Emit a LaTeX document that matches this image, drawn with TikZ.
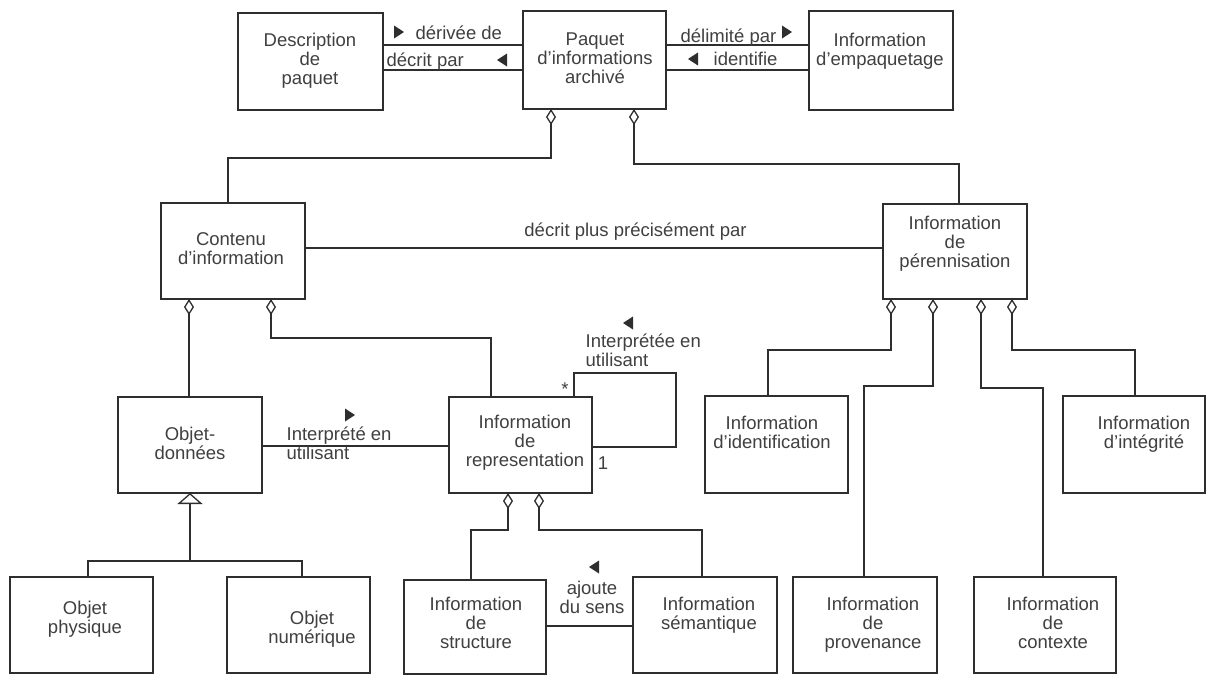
\documentclass[tikz,border=0pt]{standalone}
\usepackage{fontspec}
\setmainfont{Liberation Sans}
\usetikzlibrary{arrows.meta}
\newcommand\umlR[2]{\fill (#1,#2) ++(-5,-6.5) -- ++(10,6.5) -- ++(-10,6.5) -- cycle;}
\newcommand\umlL[2]{\fill (#1,#2) ++(5,-6.5) -- ++(-10,6.5) -- ++(10,6.5) -- cycle;}
\begin{document}
\begin{tikzpicture}[x=1pt,y=-1pt,line width=1.3pt,color=black!82,
  box/.style={draw, rectangle, inner sep=0pt, outer sep=0pt, fill=white},
  txt/.style={font=\fontsize{18.5}{19}\selectfont, align=center, inner sep=0pt, anchor=north, text=black!75},
  lbl/.style={font=\fontsize{18.5}{19}\selectfont, inner sep=0pt, text=black!75},
  umlagg/.style={{Diamond[open,length=16pt,width=10pt]}-},
  umlgen/.style={-{Triangle[open,length=11pt,width=25pt]}}]
\fill[white] (0,0) rectangle (1208,675);
\useasboundingbox (0,0) rectangle (1208,675);
% boxes
\node[box, minimum width=145pt, minimum height=97pt] (desc) at (310.5,61.5) {};
\node[box, minimum width=143pt, minimum height=98pt] (paquet) at (594.5,60) {};
\node[box, minimum width=144pt, minimum height=99pt] (emp) at (881,60.5) {};
\node[box, minimum width=144pt, minimum height=96pt] (contenu) at (233,251) {};
\node[box, minimum width=144pt, minimum height=95pt] (peren) at (955,251.5) {};
\node[box, minimum width=144pt, minimum height=96pt] (objdon) at (190,445) {};
\node[box, minimum width=143pt, minimum height=96pt] (repr) at (520.5,445) {};
\node[box, minimum width=143pt, minimum height=97pt] (ident) at (776.5,444.5) {};
\node[box, minimum width=142pt, minimum height=97pt] (integ) at (1134,444.5) {};
\node[box, minimum width=143pt, minimum height=96pt] (phys) at (81.5,625) {};
\node[box, minimum width=143pt, minimum height=96pt] (num) at (298.5,625) {};
\node[box, minimum width=142pt, minimum height=94pt] (struct) at (475,627) {};
\node[box, minimum width=144pt, minimum height=96pt] (sem) at (705,625) {};
\node[box, minimum width=144pt, minimum height=96pt] (prov) at (865,625) {};
\node[box, minimum width=142pt, minimum height=96pt] (ctx) at (1045,625) {};
% box texts
\node[txt] (desc-t) at (310,32.5) {Description\\de\\paquet};
\node[txt] (paquet-t) at (595,32.5) {Paquet\\d’informations\\archivé};
\node[txt] (emp-t) at (880,32.5) {Information\\d’empaquetage};
\node[txt] (contenu-t) at (231,231.5) {Contenu\\d’information};
\node[txt] (peren-t) at (955,215.5) {Information\\de\\pérennisation};
\node[txt] (objdon-t) at (190,426.5) {Objet-\\données};
\node[txt] (repr-t) at (525,414.5) {Information\\de\\representation};
\node[txt] (ident-t) at (772,415.5) {Information\\d’identification};
\node[txt] (integ-t) at (1144,415.5) {Information\\d’intégrité};
\node[txt] (phys-t) at (85,600.5) {Objet\\physique};
\node[txt] (num-t) at (312,610.5) {Objet\\numérique};
\node[txt] (struct-t) at (476,596.5) {Information\\de\\structure};
\node[txt] (sem-t) at (709,596.5) {Information\\sémantique};
\node[txt] (prov-t) at (873,596.5) {Information\\de\\provenance};
\node[txt] (ctx-t) at (1053,596.5) {Information\\de\\contexte};
% connectors
\draw (desc.east |- 0,45) -- (paquet.west |- 0,45);
\draw (desc.east |- 0,70) -- (paquet.west |- 0,70);
\draw (paquet.east |- 0,45) -- (emp.west |- 0,45);
\draw (paquet.east |- 0,70) -- (emp.west |- 0,70);
\draw[umlagg] (551,0 |- paquet.south) |- (228,158) -- (228,0 |- contenu.north);
\draw[umlagg] (634,0 |- paquet.south) |- (959,164) -- (959,0 |- peren.north);
\draw (contenu.east |- 0,248) -- (peren.west |- 0,248);
\draw[umlagg] (189,0 |- contenu.south) -- (189,0 |- objdon.north);
\draw[umlagg] (271,0 |- contenu.south) |- (491,338) -- (491,0 |- repr.north);
\draw (objdon.east |- 0,446) -- (repr.west |- 0,446);
\coordinate (genj) at (190,561);
\draw[umlgen] (genj) -- (objdon.south);
\draw (88,0 |- phys.north) |- (302,561) -- (302,0 |- num.north);
\draw (574,0 |- repr.north) |- (676,373) |- (repr.east |- 0,447);
\draw[umlagg] (508,0 |- repr.south) |- (471,530) -- (471,0 |- struct.north);
\draw[umlagg] (539,0 |- repr.south) |- (702,530) -- (702,0 |- sem.north);
\draw (struct.east |- 0,626) -- (sem.west |- 0,626);
\draw[umlagg] (891,0 |- peren.south) |- (768,350) -- (768,0 |- ident.north);
\draw[umlagg] (933,0 |- peren.south) |- (864,386) -- (864,0 |- prov.north);
\draw[umlagg] (981,0 |- peren.south) |- (1043,388) -- (1043,0 |- ctx.north);
\draw[umlagg] (1012,0 |- peren.south) |- (1135,350) -- (1135,0 |- integ.north);
% labels
\node[lbl, anchor=base west] (l-derivee) at (415,39.5) {dérivée de};
\node[lbl, anchor=base west] (l-decrit) at (386,66.5) {décrit par};
\node[lbl, anchor=base west] (l-delimite) at (680,42.5) {délimité par};
\node[lbl, anchor=base west] (l-identifie) at (713,65.5) {identifie};
\node[lbl, anchor=base] (l-precis) at (635.5,236.5) {décrit plus précisément par};
\node[lbl, align=left, anchor=north west] (l-interp) at (286,426.5) {Interprété en\\utilisant};
\node[lbl, align=left, anchor=north west] (l-interp2) at (585,333.5) {Interprétée en\\utilisant};
\node[lbl] (l-star) at (565,389) {*};
\node[lbl] (l-one) at (603,463) {1};
\node[lbl, align=center, anchor=north] (l-ajoute) at (592,580.5) {ajoute\\du sens};
% direction triangles
\umlR{399}{32}
\umlL{502}{60}
\umlR{787}{32}
\umlL{693}{59}
\umlR{350}{415}
\umlL{628}{323}
\umlL{594}{567}
\end{tikzpicture}
\end{document}
